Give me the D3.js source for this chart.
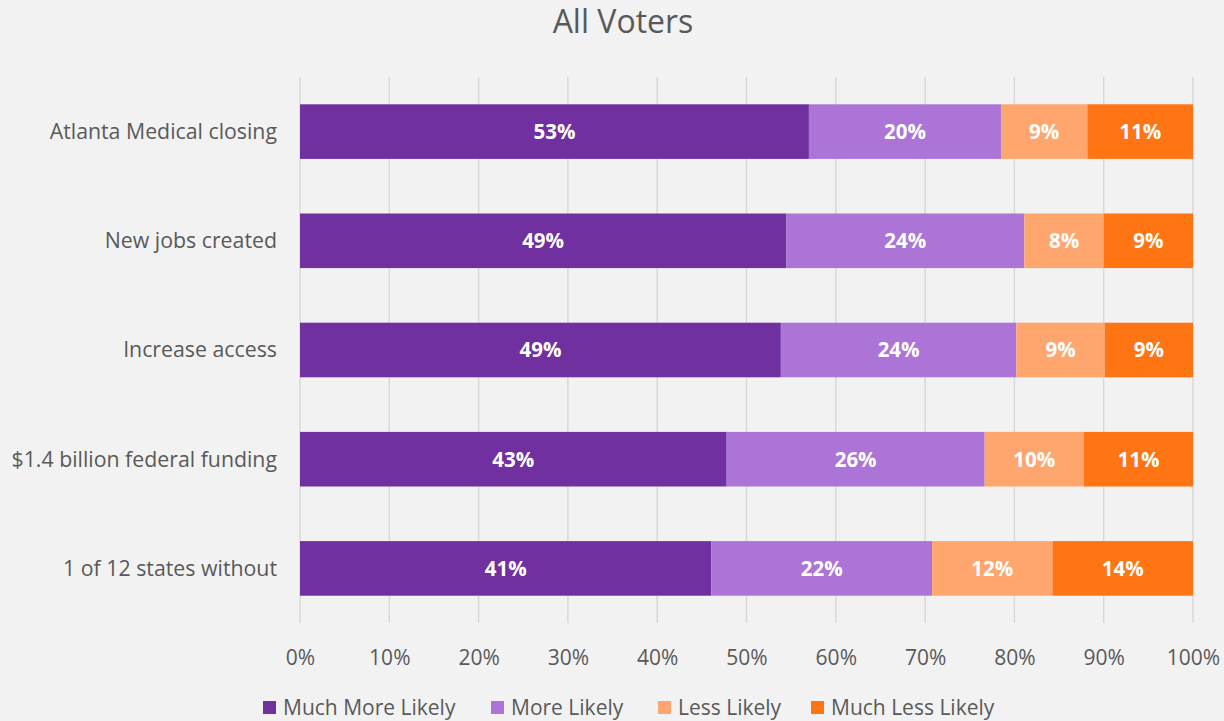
<!DOCTYPE html>
<html>
<head>
<meta charset="utf-8">
<script src="https://cdn.jsdelivr.net/npm/d3@7"></script>
<style>
  html, body { margin: 0; padding: 0; background: #f2f2f2; }
  svg { display: block; font-family: "Open Sans", "Noto Sans", sans-serif; }
</style>
</head>
<body>
<svg id="chart" width="1224" height="721"></svg>
<script>
// Survey items (top to bottom)
const categories = [
  "Atlanta Medical closing",
  "New jobs created",
  "Increase access",
  "$1.4 billion federal funding",
  "1 of 12 states without"
];
const seriesNames = ["Much More Likely", "More Likely", "Less Likely", "Much Less Likely"];
const muchMore = [53, 49, 49, 43, 41];
const more     = [20, 24, 24, 26, 22];
const less     = [9, 8, 9, 10, 12];
const muchLess = [11, 9, 9, 11, 14];
const tickLabels = ["0%", "10%", "20%", "30%", "40%", "50%", "60%", "70%", "80%", "90%", "100%"];
const colors = ["#7030a0", "#ab74d6", "#ffa66f", "#ff7413"];

const seriesValues = [muchMore, more, less, muchLess];

// Rows with each answer as a share of the row total (100% stacked)
const rows = categories.map((c, i) => {
  const row = { category: c };
  seriesNames.forEach((s, k) => { row[s] = seriesValues[k][i]; });
  return row;
});

const svg = d3.select("#chart");
const margin = { left: 300, right: 31, top: 77, bottom: 98 };
const W = 1224, H = 721;
const textColor = "#595959";

const x = d3.scaleLinear().domain([0, 1]).range([margin.left, W - margin.right]);
const y = d3.scaleBand().domain(categories).range([margin.top, H - margin.bottom]).paddingInner(0.5).paddingOuter(0.25);

// Title
svg.append("text")
  .attr("x", 623).attr("y", 33)
  .attr("text-anchor", "middle")
  .attr("font-size", 32)
  .attr("fill", textColor)
  .text("All Voters");

// Vertical gridlines
svg.append("g").selectAll("line")
  .data(d3.range(0, 11))
  .join("line")
  .attr("x1", d => x(d / 10)).attr("x2", d => x(d / 10))
  .attr("y1", margin.top).attr("y2", H - margin.bottom)
  .attr("stroke", "#d9d9d9").attr("stroke-width", 1.5);

// Stacked bars
const stack = d3.stack().keys(seriesNames).offset(d3.stackOffsetExpand);
const layers = stack(rows);

const layerG = svg.append("g").selectAll("g")
  .data(layers)
  .join("g")
  .attr("fill", (d, i) => colors[i]);

layerG.selectAll("rect")
  .data(d => d)
  .join("rect")
  .attr("x", d => x(d[0]))
  .attr("width", d => x(d[1]) - x(d[0]))
  .attr("y", d => y(d.data.category))
  .attr("height", y.bandwidth());

// Value labels
layerG.selectAll("text")
  .data(d => d.map(v => ({ v, key: d.key })))
  .join("text")
  .attr("x", d => (x(d.v[0]) + x(d.v[1])) / 2)
  .attr("y", d => y(d.v.data.category) + y.bandwidth() / 2)
  .attr("dy", "0.36em")
  .attr("text-anchor", "middle")
  .attr("font-size", 20.5)
  .attr("font-weight", "bold")
  .attr("fill", "#ffffff")
  .text(d => d.v.data[d.key] + "%");

// Category axis labels
svg.append("g").selectAll("text")
  .data(categories)
  .join("text")
  .attr("x", 277)
  .attr("y", d => y(d) + y.bandwidth() / 2)
  .attr("dy", "0.35em")
  .attr("text-anchor", "end")
  .attr("font-size", 21.3)
  .attr("fill", textColor)
  .text(d => d);

// Percentage axis
const xAxis = d3.axisBottom(x)
  .tickValues(d3.range(0, 11).map(d => d / 10))
  .tickFormat((d, i) => tickLabels[i])
  .tickSize(0).tickPadding(0);
const axG = svg.append("g")
  .attr("transform", `translate(0,${H - margin.bottom})`)
  .call(xAxis);
axG.select(".domain").remove();
axG.selectAll("text")
  .attr("font-family", "\"Open Sans\", \"Noto Sans\", sans-serif")
  .attr("font-size", 21)
  .attr("fill", textColor)
  .attr("dy", null)
  .attr("y", 42);

// Legend
const legendX = [263, 491, 658, 811];
const legend = svg.append("g").selectAll("g")
  .data(seriesNames)
  .join("g")
  .attr("transform", (d, i) => `translate(${legendX[i]},701)`);
legend.append("rect")
  .attr("width", 13).attr("height", 13)
  .attr("fill", (d, i) => colors[i]);
legend.append("text")
  .attr("x", 20).attr("y", 14)
  .attr("font-size", 21)
  .attr("fill", textColor)
  .text(d => d);
</script>
</body>
</html>
